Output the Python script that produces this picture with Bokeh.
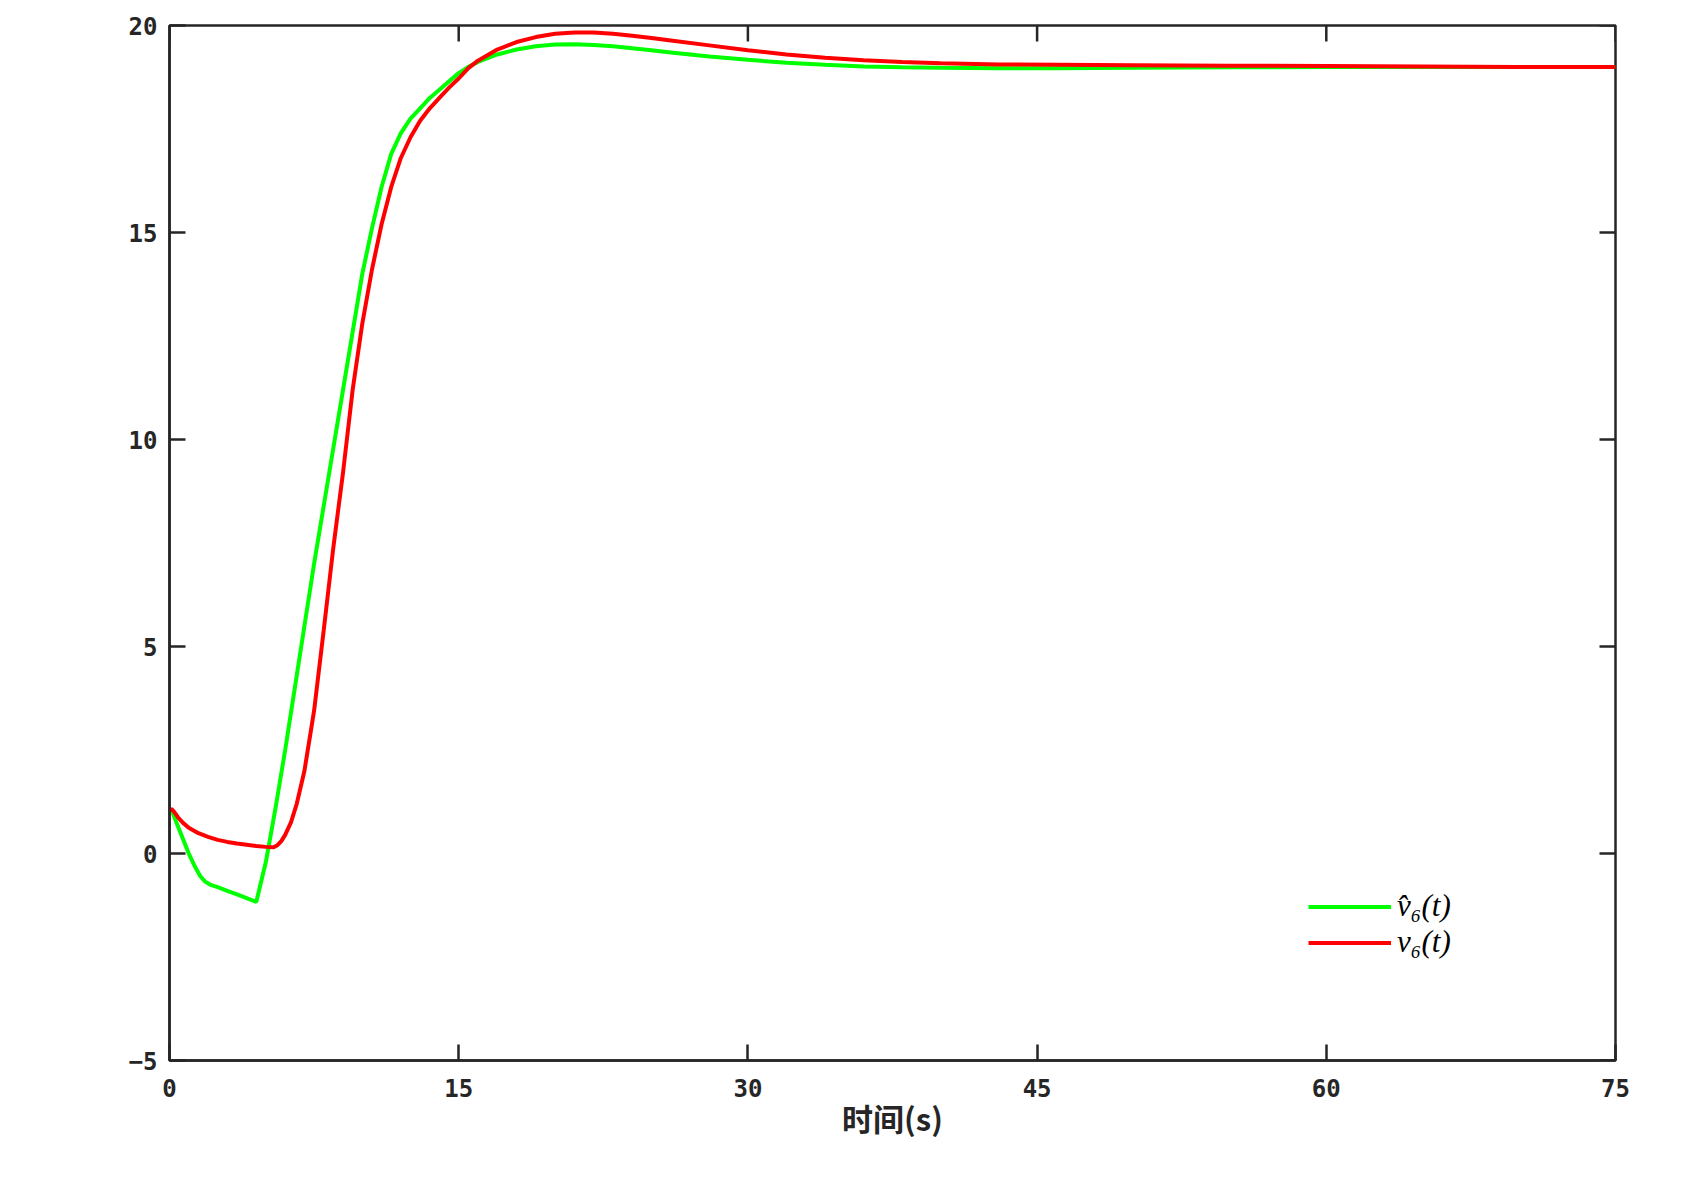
import math
from bokeh.plotting import figure
from bokeh.models import FixedTicker, Range1d, Legend, LegendItem
from bokeh.embed import file_html
from bokeh.resources import INLINE

## ----- DATA ----- ##
t_hat = [0, 0.15, 0.4, 0.7, 1.0, 1.3, 1.6, 1.85, 2.1, 2.5, 3.0, 3.5, 4.0,
         4.5, 5.0, 5.5, 6.0, 6.5, 7.0, 7.5, 8.0, 8.5, 9.0, 9.5, 10.0, 10.5,
         11.0, 11.5, 12.0, 12.5, 13.0, 13.5, 14.0, 14.5, 15.0, 15.5, 16,
         17, 18, 19, 20, 21, 22, 23, 24, 25, 26, 28, 30, 32, 34, 36, 38,
         40, 43, 46, 50, 55, 60, 65, 70, 75]
v_hat = [1.05, 1.0, 0.7, 0.35, 0.0, -0.3, -0.55, -0.68, -0.75, -0.81, -0.9,
         -0.99, -1.08, -1.17, -0.2, 1.1, 2.5, 4.0, 5.5, 7.0, 8.4, 9.8, 11.2,
         12.6, 14.0, 15.1, 16.1, 16.9, 17.4, 17.75, 18.0, 18.25, 18.45, 18.65,
         18.85, 19.0, 19.12, 19.3, 19.42, 19.5, 19.54, 19.55, 19.53, 19.5,
         19.45, 19.4, 19.35, 19.25, 19.17, 19.1, 19.05, 19.01, 18.99, 18.98,
         18.97, 18.97, 18.98, 18.99, 19.0, 19.0, 19.0, 19.0]

t_v = [0, 0.1, 0.25, 0.45, 0.7, 1.0, 1.5, 2.0, 2.5, 3.0, 3.5, 4.0, 4.5, 5.0,
       5.4, 5.6, 5.8, 6.0, 6.3, 6.6, 7.0, 7.5, 8.0, 8.5, 9.0, 9.5, 10.0,
       10.5, 11.0, 11.5, 12.0, 12.5, 13.0, 13.5, 14.0, 14.5, 15.0, 15.5, 16,
       17, 18, 19, 20, 21, 22, 23, 24, 25, 26, 28, 30, 32, 34, 36, 38, 40,
       43, 46, 50, 55, 60, 65, 70, 75]
v_v = [1.03, 1.08, 1.0, 0.87, 0.74, 0.62, 0.49, 0.4, 0.33, 0.28, 0.24, 0.21,
       0.18, 0.16, 0.15, 0.2, 0.3, 0.45, 0.75, 1.2, 2.0, 3.45, 5.4, 7.4, 9.2,
       11.2, 12.8, 14.1, 15.2, 16.1, 16.8, 17.3, 17.7, 18.0, 18.25, 18.5,
       18.72, 18.97, 19.15, 19.42, 19.6, 19.72, 19.8, 19.83, 19.83, 19.8,
       19.75, 19.7, 19.64, 19.52, 19.4, 19.3, 19.22, 19.16, 19.12, 19.09,
       19.06, 19.05, 19.04, 19.03, 19.02, 19.01, 19.0, 19.0]

X_MIN, X_MAX = 0, 75
Y_MIN, Y_MAX = -5, 20
x_ticks = [0, 15, 30, 45, 60, 75]
y_ticks = [-5, 0, 5, 10, 15, 20]
x_label = "时间(s)"
labels = ["v\u0302\u2086(t)", "v\u2086(t)"]

## ----- STYLE ----- ##
AXIS_COLOR = "#262626"
TICK_FONT = "DejaVu Sans Mono"
GREEN = "#00ff00"
RED = "#ff0000"
TICK_LEN = 16

p = figure(width=1683, height=1161, output_backend="svg", toolbar_location=None,
           x_range=Range1d(X_MIN, X_MAX), y_range=Range1d(Y_MIN, Y_MAX),
           frame_width=1446, frame_height=1035,
           min_border_left=169, min_border_right=68,
           min_border_top=25, min_border_bottom=101)
p.outline_line_color = AXIS_COLOR
p.outline_line_width = 2.5
p.xgrid.visible = False
p.ygrid.visible = False
p.background_fill_color = "white"
p.border_fill_color = "white"

r_hat = p.line(t_hat, v_hat, line_color=GREEN, line_width=4)
r_v = p.line(t_v, v_v, line_color=RED, line_width=4)

# inward ticks on the top and right edges (box on)
p.ray(x=x_ticks, y=[Y_MAX] * len(x_ticks), length=TICK_LEN, length_units="screen",
      angle=-math.pi / 2, line_color=AXIS_COLOR, line_width=2.5)
p.ray(x=[X_MAX] * len(y_ticks), y=y_ticks, length=TICK_LEN, length_units="screen",
      angle=math.pi, line_color=AXIS_COLOR, line_width=2.5)

p.xaxis.ticker = FixedTicker(ticks=x_ticks)
p.yaxis.ticker = FixedTicker(ticks=y_ticks)

for ax in (p.xaxis[0], p.yaxis[0]):
    ax.axis_line_color = AXIS_COLOR
    ax.axis_line_width = 2.5
    ax.major_tick_line_color = AXIS_COLOR
    ax.major_tick_line_width = 2.5
    ax.major_tick_in = TICK_LEN
    ax.major_tick_out = 0
    ax.minor_tick_line_color = None
    ax.major_label_text_font = TICK_FONT
    ax.major_label_text_font_style = "bold"
    ax.major_label_text_font_size = "24px"
    ax.major_label_text_color = AXIS_COLOR

p.xaxis.major_label_standoff = 18
p.yaxis.major_label_standoff = 12
p.xaxis.axis_label = x_label
p.xaxis.axis_label_text_font = "Noto Sans CJK SC"
p.xaxis.axis_label_text_font_style = "bold"
p.xaxis.axis_label_text_font_size = "31px"
p.xaxis.axis_label_text_color = AXIS_COLOR
p.xaxis.axis_label_standoff = -5

legend = Legend(items=[LegendItem(label=labels[0], renderers=[r_hat]),
                       LegendItem(label=labels[1], renderers=[r_v])],
                location=(1139, 100), padding=0, margin=0, spacing=0,
                glyph_width=83, glyph_height=35, label_height=35,
                label_standoff=6, border_line_color=None,
                background_fill_alpha=0,
                label_text_font="Liberation Serif",
                label_text_font_style="italic",
                label_text_font_size="31px",
                label_text_color="black")
p.add_layout(legend, "center")

open("out.html", "w").write(file_html(p, INLINE))
